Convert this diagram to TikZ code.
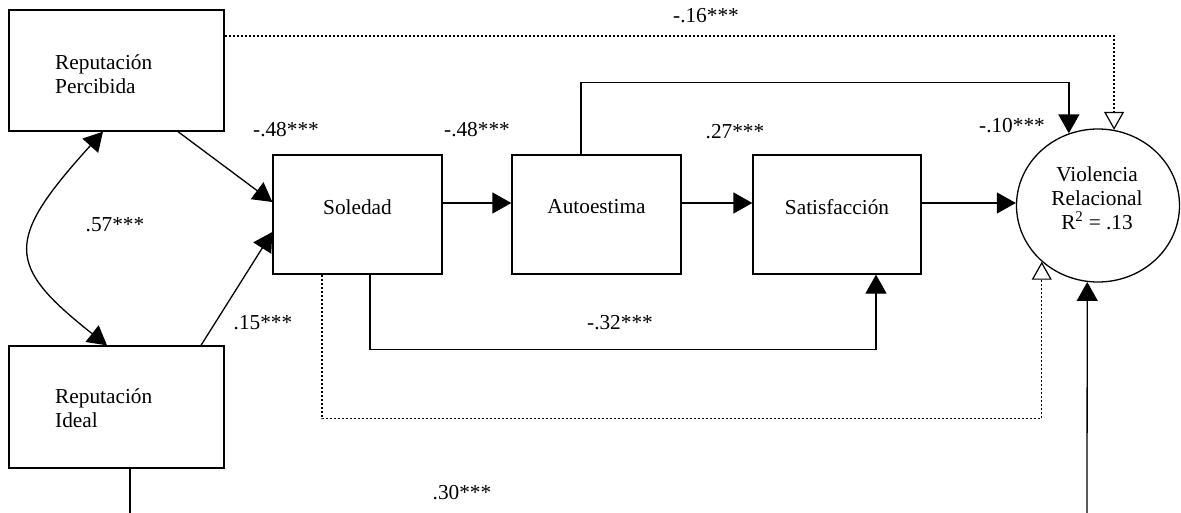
\documentclass[tikz,border=0pt]{standalone}
\usepackage{fontspec}
\setmainfont{Liberation Serif}
\usetikzlibrary{arrows.meta,shapes.geometric,calc}
\begin{document}
\begin{tikzpicture}[x=1pt,y=-1pt,
  every node/.style={font=\fontsize{21.3}{25}\selectfont},
  box/.style={draw,line width=1.3pt,minimum width=#1,minimum height=120pt,inner sep=0pt},
  conn/.style={line width=1.3pt},
  arr/.style={conn,-{Triangle[length=19pt,width=21pt]}},
  darr/.style={conn,{Triangle[length=19pt,width=21pt]}-{Triangle[length=19pt,width=21pt]}},
  dot/.style={line width=1.2pt,dash pattern=on 2pt off 2pt},
  oarr/.style={dot,-{Triangle[open,length=18pt,width=20pt,line width=1.2pt]}},
  txt/.style={inner sep=0pt,align=left,anchor=west},
  lab/.style={inner sep=0pt}]
\useasboundingbox (0,0) rectangle (1181,513);
% boxes
\node[box=215pt,minimum height=121pt] (RP) at (116.5,70.5) {};
\node[box=215pt,minimum height=122pt] (RI) at (116.5,407) {};
\node[box=169pt,minimum height=119pt] (Sol) at (357.5,214.5) {};
\node[box=169pt,minimum height=119pt] (Aut) at (596.5,214.5) {};
\node[box=168pt,minimum height=119pt] (Sat) at (837,214.5) {};
\node[draw,ellipse,line width=1.3pt,minimum width=163pt,minimum height=153pt,inner sep=0pt] (VR) at (1098,205.5) {};
% texts
\node[txt] (tRP) at (55,74) {Reputación\\[-1pt]Percibida};
\node[txt] (tRI) at (55,408) {Reputación\\[-1pt]Ideal};
\node[lab] (tSol) at (357.5,207) {Soledad};
\node[lab] (tAut) at (596.5,207) {Autoestima};
\node[lab] (tSat) at (837,207) {Satisfacción};
\node[lab,align=center] (tVR) at (1097,198) {Violencia\\[-1pt]Relacional\\[-1pt]R\textsuperscript{2} = .13};
% connectors
\draw[arr] (RP.south -| 178,0) -- (Sol.west |- 0,202);
\draw[arr] (RI.north -| 201,0) -- (Sol.west |- 0,232);
\draw[darr] (RP.south -| 103,0) .. controls (5,240) and (5,265) .. (RI.north -| 107,0);
\draw[arr] (Sol.east |- 0,203) -- (Aut.west |- 0,203);
\draw[arr] (Aut.east |- 0,203) -- (Sat.west |- 0,203);
\draw[arr] (Sat.east |- 0,203) -- (VR.west |- 0,203);
\draw[arr] (Aut.north -| 581,0) -- ++(0,-72) -| (VR.112);
\draw[oarr] (RP.east |- 0,36) -| (VR.78);
\draw[oarr] (Sol.south -| 322,0) -- ++(0,144) -| (VR.225);
\draw[arr] (Sol.south -| 370,0) -- ++(0,75) -| (Sat.south -| 876,0);
\coordinate (b1) at (130,513);
\coordinate (b2) at (1087,513);
\draw[conn] (RI.south -| 130,0) -- (b1);
\draw[arr] (b2) -- (VR.262);
% labels
\node[lab] (l1) at (706,16) {-.16***};
\node[lab] (l2) at (286,130) {-.48***};
\node[lab] (l3) at (477,130) {-.48***};
\node[lab] (l4) at (735,132) {.27***};
\node[lab] (l5) at (1012,126) {-.10***};
\node[lab] (l6) at (115,225) {.57***};
\node[lab] (l7) at (263,323) {.15***};
\node[lab] (l8) at (620,323) {-.32***};
\node[lab] (l9) at (462,493) {.30***};
\end{tikzpicture}
\end{document}
